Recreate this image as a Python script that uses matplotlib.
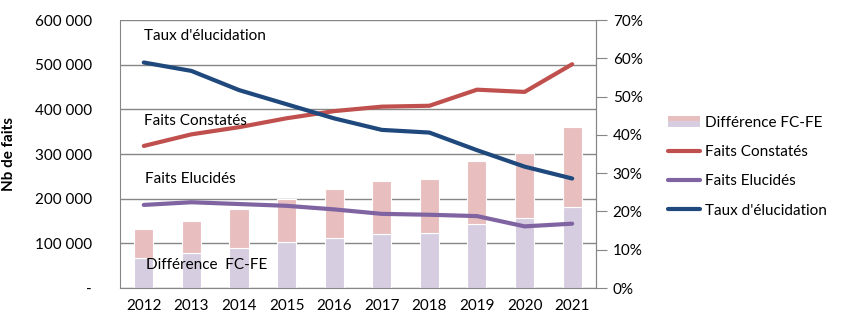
import matplotlib.pyplot as plt
from matplotlib.patches import Rectangle
from matplotlib.legend_handler import HandlerBase
from matplotlib.ticker import FuncFormatter

plt.rcParams['font.family'] = ['Lato', 'DejaVu Sans']

years = ['2012', '2013', '2014', '2015', '2016', '2017', '2018', '2019', '2020', '2021']
bar_low = [68000, 78000, 90000, 103000, 113000, 122000, 124000, 143000, 156000, 181000]
bar_top = [133000, 151000, 176000, 200000, 222000, 240000, 244000, 284000, 302000, 360000]
faits_constates = [318000, 344000, 360000, 380000, 396000, 406000, 408000, 444000, 439000, 501000]
faits_elucides = [186000, 192000, 188000, 184000, 176000, 166000, 164000, 161000, 138000, 144000]
taux = [0.589, 0.567, 0.517, 0.480, 0.443, 0.413, 0.406, 0.360, 0.317, 0.286]

pink = '#E8BFBE'
lav = '#D6CDE1'
red = '#C0504D'
purple = '#8064A2'
blue = '#1F497D'
grey = '#868686'


class SplitPatch(HandlerBase):
    def create_artists(self, legend, orig, xd, yd, w, h, fs, trans):
        top = Rectangle((-xd, -yd + h / 2), w, h / 2, facecolor=pink, edgecolor='none', transform=trans)
        bot = Rectangle((-xd, -yd), w, h / 2, facecolor=lav, edgecolor='none', transform=trans)
        return [bot, top]


fig = plt.figure(figsize=(8.48, 3.29), dpi=100)
ax = fig.add_axes([0.1415, 0.1246, 0.5613, 0.8146])
x = range(len(years))
diff = [t - l for t, l in zip(bar_top, bar_low)]
ax.bar(x, bar_low, width=0.4, color=lav, edgecolor='white', linewidth=0.8, zorder=2)
b = ax.bar(x, diff, bottom=bar_low, width=0.4, color=pink, edgecolor='white', linewidth=0.8, zorder=2)
l1, = ax.plot(x, faits_constates, color=red, lw=3, solid_capstyle='round', zorder=3)
l2, = ax.plot(x, faits_elucides, color=purple, lw=3, solid_capstyle='round', zorder=3)
ax.set_ylim(0, 600000)
ax.set_xlim(-0.5, len(years) - 0.5)
ax.set_yticks(range(0, 600001, 100000))
ax.yaxis.set_major_formatter(FuncFormatter(lambda v, p: '-' if v == 0 else f'{int(v):,}'.replace(',', ' ')))
ax.set_xticks(list(x))
ax.set_xticklabels(years)
ax.grid(axis='y', color=grey, lw=1, zorder=0)
ax.tick_params(axis='both', length=0, labelsize=11, pad=8)
ax.tick_params(axis='y', pad=20)
ax.set_ylabel('Nb de faits', fontweight='bold', fontsize=11)
ax.yaxis.set_label_coords(-0.218, 0.5)
for s in ax.spines.values():
    s.set_color(grey)
ax.spines['top'].set_visible(False)

ax2 = ax.twinx()
l3, = ax2.plot(x, taux, color=blue, lw=3, solid_capstyle='round', zorder=3)
ax2.set_ylim(0, 0.7)
ax2.set_yticks([i / 10 for i in range(8)])
ax2.yaxis.set_major_formatter(FuncFormatter(lambda v, p: f'{round(v * 100)}%'))
ax2.tick_params(axis='y', direction='out', length=8, color=grey, labelsize=11, pad=4)
for s in ax2.spines.values():
    s.set_visible(False)
ax2.spines['right'].set_visible(True)
ax2.spines['right'].set_color(grey)

ax.text(0.0, 565000, "Taux d'élucidation", fontsize=11, va='center')
ax.text(0.0, 375000, 'Faits Constatés', fontsize=11, va='center')
ax.text(0.02, 243000, 'Faits Elucidés', fontsize=11, va='center')
ax.text(0.05, 52000, 'Différence  FC-FE', fontsize=11, va='center')

fig.legend([b, l1, l2, l3], ['Différence FC-FE', 'Faits Constatés', 'Faits Elucidés', "Taux d'élucidation"],
           handler_map={b: SplitPatch()}, loc='upper left', bbox_to_anchor=(0.772, 0.69),
           frameon=False, fontsize=11, handlelength=2.1, handletextpad=0.3, labelspacing=1.0)

fig.savefig('out.png', dpi=100)
